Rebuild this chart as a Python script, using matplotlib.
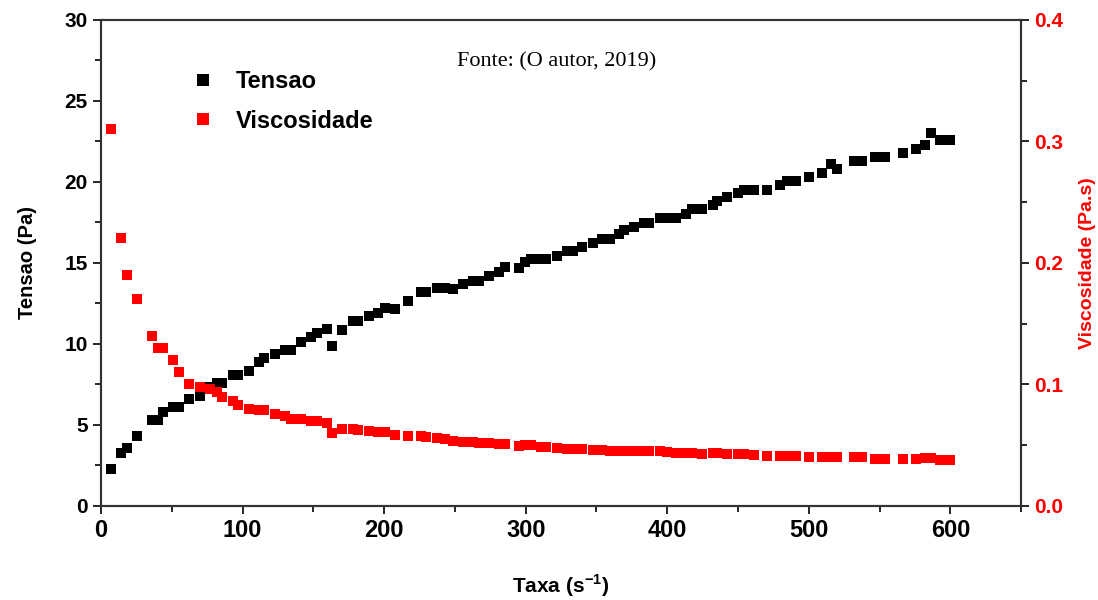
import matplotlib
matplotlib.use('Agg')
import matplotlib.pyplot as plt
from matplotlib.ticker import MultipleLocator
from matplotlib import font_manager

# Shear rate (s^-1)
taxa = [6.8, 14.1, 18.1, 25.2, 35.7, 40, 44, 50.5, 54.8, 62, 69.8, 76.9, 82, 85.8,
        93.3, 96.8, 104.4, 111.6, 115, 122.6, 130.2, 134, 141.5, 148.6, 152.5, 159.6,
        163.1, 170.4, 178, 181.5, 189, 196, 200.3, 207.8, 216.7, 226.1, 229.7, 237.4,
        243.2, 248.5, 256, 262.6, 266.8, 274.3, 281.4, 285.6, 295, 299.7, 303.7, 310.8,
        314.7, 321.8, 329.1, 333.1, 340.1, 347.2, 354.2, 359.5, 366, 369.5, 376.6, 383.6,
        387.2, 394.7, 400, 405.9, 413.5, 417.7, 424.8, 432.3, 435.3, 442.4, 450.1, 454.2,
        461.2, 470.6, 480, 484.7, 491, 500, 509, 516, 520, 531.7, 537.6, 547, 554, 566.3,
        575.7, 582.3, 586.5, 593, 600]

# Shear stress (Pa)
tensao = [2.27, 3.29, 3.54, 4.32, 5.31, 5.31, 5.82, 6.09, 6.09, 6.58, 6.79, 7.36, 7.57, 7.57,
          8.09, 8.09, 8.35, 8.87, 9.12, 9.38, 9.63, 9.63, 10.1, 10.41, 10.66, 10.93,
          9.88, 10.86, 11.42, 11.42, 11.69, 11.93, 12.2, 12.16, 12.67, 13.17, 13.17, 13.44,
          13.42, 13.4, 13.7, 13.9, 13.9, 14.2, 14.46, 14.73, 14.67, 15.04, 15.23, 15.23,
          15.23, 15.45, 15.74, 15.74, 16.0, 16.25, 16.46, 16.44, 16.78, 17.04, 17.24, 17.45,
          17.45, 17.76, 17.76, 17.76, 18.02, 18.31, 18.31, 18.58, 18.83, 19.05, 19.3, 19.51,
          19.51, 19.51, 19.78, 20.02, 20.02, 20.27, 20.54, 21.11, 20.78, 21.3, 21.3, 21.52, 21.52, 21.77,
          22.04, 22.28, 23.04, 22.55, 22.55]

# Viscosity (Pa.s)
viscosidade = [0.310, 0.220, 0.190, 0.170, 0.140, 0.130, 0.130, 0.120, 0.110, 0.100, 0.0974, 0.096, 0.0936, 0.0892,
               0.0864, 0.0826, 0.0796, 0.079, 0.0785, 0.0757, 0.0735, 0.0713, 0.0713, 0.0694, 0.0694, 0.068,
               0.0598, 0.0634, 0.0634, 0.062, 0.0612, 0.0607, 0.0607, 0.0584, 0.0578, 0.0576, 0.057, 0.0562,
               0.0547, 0.0535, 0.0529, 0.0521, 0.0516, 0.0516, 0.051, 0.051, 0.0496, 0.0500, 0.0502, 0.0485,
               0.0483, 0.0475, 0.0470, 0.0469, 0.0467, 0.0461, 0.0461, 0.0455, 0.0455, 0.0455, 0.0455, 0.0447,
               0.0447, 0.0447, 0.0440, 0.0434, 0.0434, 0.0432, 0.0428, 0.0434, 0.0432, 0.0428, 0.0428, 0.0426,
               0.0420, 0.0411, 0.0406, 0.0411, 0.0406, 0.0400, 0.0400, 0.0400, 0.0400, 0.0398, 0.0398, 0.0387, 0.0384, 0.0384,
               0.0387, 0.0390, 0.0392, 0.0380, 0.0379]

visc_ticks = [0.0, 0.1, 0.2, 0.3, 0.4]
visc_labels = ['0.0', '0.1', '0.2', '0.3', '0.4']

# Pick a narrow font for the tick labels if one is installed
installed = {f.name for f in font_manager.fontManager.ttflist}
narrow = 'Liberation Sans'
for cand in ['Liberation Sans Narrow', 'DejaVu Sans Condensed']:
    if cand in installed:
        narrow = cand
        break

plt.rcParams['font.family'] = ['Liberation Sans', 'DejaVu Sans']
plt.rcParams['mathtext.fontset'] = 'custom'
plt.rcParams['mathtext.rm'] = 'Liberation Sans:bold'
plt.rcParams['mathtext.bf'] = 'Liberation Sans:bold'

fig = plt.figure(figsize=(10.98, 6), dpi=100)
ax = fig.add_axes([0.092, 0.157, 0.838, 0.81])
ax2 = ax.twinx()

ax.plot(taxa, tensao, 's', color='black', markersize=6.5, markeredgewidth=0, label='Tensao')
ax2.plot(taxa, viscosidade, 's', color='red', markersize=6.5, markeredgewidth=0, label='Viscosidade')

ax.set_xlim(0, 650)
ax.set_ylim(0, 30)
ax2.set_ylim(0, 0.4)

ax.xaxis.set_major_locator(MultipleLocator(100))
ax.xaxis.set_minor_locator(MultipleLocator(50))
ax.yaxis.set_major_locator(MultipleLocator(5))
ax.yaxis.set_minor_locator(MultipleLocator(2.5))
ax2.set_yticks(visc_ticks)
ax2.set_yticklabels(visc_labels)
ax2.yaxis.set_minor_locator(MultipleLocator(0.05))

ax.tick_params(axis='both', which='both', direction='out', width=1.2)
ax.tick_params(axis='both', which='major', length=6)
ax.tick_params(axis='both', which='minor', length=4)
ax2.tick_params(axis='y', which='both', direction='out', width=1.2, colors='black')
ax2.tick_params(axis='y', which='major', length=6, pad=3)
ax2.tick_params(axis='y', which='minor', length=4)

for lbl in ax.get_xticklabels():
    lbl.set_fontfamily(narrow)
    lbl.set_fontweight('bold')
    lbl.set_fontsize(17)
for lbl in ax.get_yticklabels():
    lbl.set_fontfamily(narrow)
    lbl.set_fontweight('bold')
    lbl.set_fontsize(15)
for lbl in ax2.get_yticklabels():
    lbl.set_fontfamily(narrow)
    lbl.set_fontweight('bold')
    lbl.set_fontsize(15)
    lbl.set_color('red')

for sp in ax.spines.values():
    sp.set_linewidth(1.5)
    sp.set_color('#333333')
for sp in ax2.spines.values():
    sp.set_linewidth(1.5)
    sp.set_color('#333333')

ax.set_xlabel(r'Taxa (s$^{-1}$)', fontsize=15, fontweight='bold', labelpad=22)
ax.set_ylabel('Tensao (Pa)', fontsize=14.5, fontweight='bold', labelpad=20)
ax2.set_ylabel('Viscosidade (Pa.s)', fontsize=14, fontweight='bold', color='red', labelpad=12)

handles = ax.get_lines() + ax2.get_lines()
ax.legend(handles, [h.get_label() for h in handles], loc='upper left',
          bbox_to_anchor=(0.075, 0.94), frameon=False, markerscale=1.3,
          handlelength=1.0, handletextpad=0.9, labelspacing=0.7,
          prop={'weight': 'bold', 'size': 17})

ax.text(0.495, 0.914, 'Fonte: (O autor, 2019)', transform=ax.transAxes,
        ha='center', va='center', fontsize=16, family='Liberation Serif')

fig.savefig('out.png', dpi=100)
